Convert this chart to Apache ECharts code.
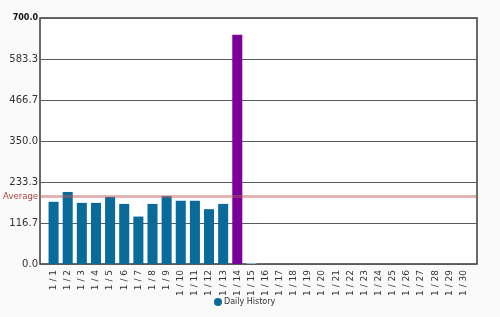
<!DOCTYPE html>
<html><head><meta charset="utf-8">
<script src="https://cdn.jsdelivr.net/npm/echarts@6/dist/echarts.min.js"></script>
<style>html,body{margin:0;padding:0;background:#fafafa}#c{width:500px;height:317px}</style>
</head><body><div id="c"></div>
<script>
const categories = ["1 / 1","1 / 2","1 / 3","1 / 4","1 / 5","1 / 6","1 / 7","1 / 8","1 / 9","1 / 10","1 / 11","1 / 12","1 / 13","1 / 14","1 / 15","1 / 16","1 / 17","1 / 18","1 / 19","1 / 20","1 / 21","1 / 22","1 / 23","1 / 24","1 / 25","1 / 26","1 / 27","1 / 28","1 / 29","1 / 30"];
const dailyHistory = [177,205,174,174,191,171,135,171,193,180,180,156,171,652,3,null,null,null,null,null,null,null,null,null,null,null,null,null,null,null];
const highlightIndex = 13;
const lowIndex = 14;
const averageValue = 191.5;
const yMax = 700;
const yInterval = 700/6;

const chart = echarts.init(document.getElementById('c'), null, {renderer:'canvas'});
chart.setOption({
  backgroundColor:'#fafafa',
  animation:false,
  textStyle:{fontFamily:'DejaVu Sans'},
  grid:[
    {left:40,right:23,top:18,bottom:53,show:true,backgroundColor:'#ffffff',borderColor:'#3a3a3a',borderWidth:1.5},
    {left:46.5,right:29.5,top:18,bottom:53}
  ],
  legend:{bottom:6,left:209,itemWidth:8,itemHeight:8,itemGap:3,icon:'circle',
    textStyle:{fontSize:8,color:'#333',fontFamily:'DejaVu Sans',padding:[0,0,0,-3]},
    data:[{name:'Daily History',itemStyle:{color:'#0a6a9a'}}]},
  xAxis:[
    {type:'category',gridIndex:0,data:[],show:false},
    {type:'category',gridIndex:1,data:categories,
      axisLine:{show:false},
      axisTick:{show:false},
      axisLabel:{rotate:90,interval:0,fontSize:9,color:'#333',margin:6}}
  ],
  yAxis:[
    {type:'value',gridIndex:0,min:0,max:yMax,interval:yInterval,
      axisLine:{show:false},
      axisTick:{show:false},
      splitLine:{lineStyle:{color:'#5a5a5a',width:1}},
      axisLabel:{fontSize:10,color:'#333',margin:2,
        formatter:function(v){ return Math.abs(v-yMax)<0.01 ? '{b|'+v.toFixed(1)+'}' : v.toFixed(1); },
        rich:{b:{fontWeight:'bold',fontSize:8,color:'#111'}}}},
    {type:'value',gridIndex:1,min:0,max:yMax,interval:yInterval,show:false,splitLine:{show:false}}
  ],
  series:[
    {name:'Daily History',type:'bar',xAxisIndex:1,yAxisIndex:1,barWidth:'71%',z:2,
      data:dailyHistory.map((v,i)=>({value:v,itemStyle:{color:i===highlightIndex?'#7b0099':(i===lowIndex?'#8db8d6':'#0a6a9a')}})),
      itemStyle:{color:'#0a6a9a'}},
    {name:'avg',type:'line',xAxisIndex:0,yAxisIndex:0,data:[],z:5,
      markLine:{silent:true,symbol:['none','none'],
        lineStyle:{color:'rgba(190,88,88,0.45)',width:3,type:'solid'},
        label:{position:'start',formatter:'Average',color:'#a8473a',fontSize:8.5,distance:2},
        data:[{yAxis:averageValue}]}}
  ]
});
</script></body></html>
